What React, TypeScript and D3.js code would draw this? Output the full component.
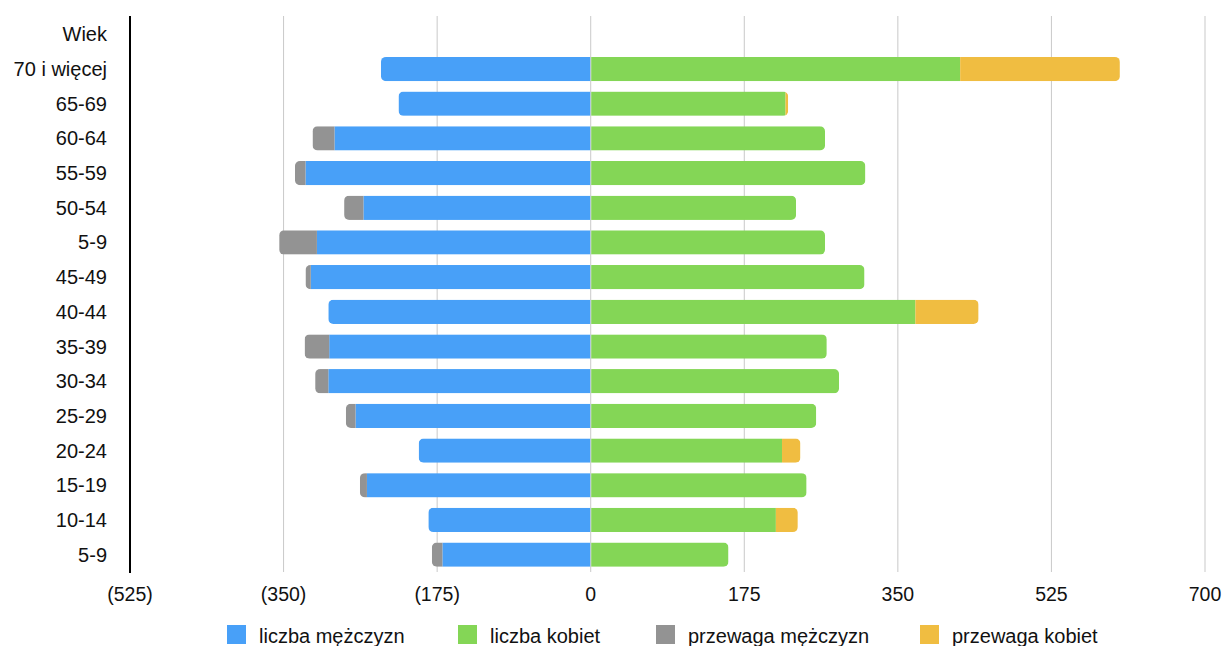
import * as d3 from "d3";

// age groups from top to bottom ("Wiek" is the header row, it holds no bars)
const ageGroups = [
  "Wiek",
  "70 i więcej",
  "65-69",
  "60-64",
  "55-59",
  "50-54",
  "5-9",
  "45-49",
  "40-44",
  "35-39",
  "30-34",
  "25-29",
  "20-24",
  "15-19",
  "10-14",
  "5-9",
];
const menCount = [0, 239, 219, 292, 325, 259, 312, 319, 299, 298, 299, 268, 196, 255, 185, 169];
const womenCount = [0, 421, 222, 267, 313, 234, 267, 312, 370, 269, 283, 257, 218, 246, 211, 157];
const menExcess = [0, 0, 0, 25, 12, 22, 43, 6, 0, 28, 15, 11, 0, 8, 0, 12];
const womenExcess = [0, 182, 3, 0, 0, 0, 0, 0, 72, 0, 0, 0, 21, 0, 25, 0];

const xTicks = [-525, -350, -175, 0, 175, 350, 525, 700];

const seriesNames = ["liczba mężczyzn", "liczba kobiet", "przewaga mężczyzn", "przewaga kobiet"];
const seriesColors = ["#48a0f8", "#84d656", "#939393", "#f0bd41"];

const WIDTH = 1222;
const HEIGHT = 646;
const FONT = "'Liberation Sans', Arial, Helvetica, sans-serif";
const RADIUS = 5;
const LEGEND_X = [227, 458, 656, 920];

export default function App() {
  const x = d3.scaleLinear().domain([-525, 700]).range([130, 1205]);
  const y = d3
    .scaleBand<number>()
    .domain(d3.range(ageGroups.length))
    .range([17, 572])
    .paddingInner(0.3)
    .paddingOuter(0.15);
  const bw = y.bandwidth();
  const x0 = x(0);

  const fmt = (v: number) => (v < 0 ? `(${-v})` : `${v}`);

  const rows = ageGroups.map((label, i) => {
    const top = y(i)!;
    const menTotal = menCount[i] + menExcess[i];
    const womenTotal = womenCount[i] + womenExcess[i];
    if (menTotal === 0 && womenTotal === 0) return null;
    const leftEdge = x(-menTotal);
    const rightEdge = x(womenTotal);
    return (
      <g key={i}>
        <defs>
          <clipPath id={`clipL${i}`}>
            <rect x={leftEdge} y={top} width={x0 - leftEdge + RADIUS * 2} height={bw} rx={RADIUS} />
          </clipPath>
          <clipPath id={`clipR${i}`}>
            <rect x={x0 - RADIUS * 2} y={top} width={rightEdge - x0 + RADIUS * 2} height={bw} rx={RADIUS} />
          </clipPath>
        </defs>
        <g clipPath={`url(#clipL${i})`}>
          <rect x={x(-menCount[i])} y={top} width={x0 - 0.5 - x(-menCount[i])} height={bw} fill={seriesColors[0]} />
          {menExcess[i] > 0 && (
            <rect x={leftEdge} y={top} width={x(-menCount[i]) - leftEdge} height={bw} fill={seriesColors[2]} />
          )}
        </g>
        <g clipPath={`url(#clipR${i})`}>
          <rect x={x0 + 0.5} y={top} width={x(womenCount[i]) - x0 - 0.5} height={bw} fill={seriesColors[1]} />
          {womenExcess[i] > 0 && (
            <rect x={x(womenCount[i])} y={top} width={rightEdge - x(womenCount[i])} height={bw} fill={seriesColors[3]} />
          )}
        </g>
      </g>
    );
  });

  return (
    <svg
      width={WIDTH}
      height={HEIGHT}
      style={{ position: "absolute", left: 0, top: 0, background: "#fff" }}
      fontFamily={FONT}
    >
      {/* grid */}
      {xTicks.slice(1).map((t) => (
        <line key={t} x1={x(t)} x2={x(t)} y1={16} y2={572} stroke="#c9c9c9" strokeWidth={1} />
      ))}
      {rows}
      <line x1={x(-525)} x2={x(-525)} y1={16} y2={573} stroke="#000" strokeWidth={2} />

      {/* category labels */}
      {ageGroups.map((label, i) => (
        <text
          key={i}
          x={107}
          y={y(i)! + bw / 2}
          dy="0.35em"
          textAnchor="end"
          fontSize={20}
          fill="#111"
        >
          {label}
        </text>
      ))}

      {/* x tick labels */}
      {xTicks.map((t) => (
        <text key={t} x={x(t)} y={601} textAnchor="middle" fontSize={19.5} fill="#111">
          {fmt(t)}
        </text>
      ))}

      {/* legend */}
      {seriesNames.map((name, i) => (
        <g key={name} transform={`translate(${LEGEND_X[i]},625)`}>
          <rect width={19} height={19} fill={seriesColors[i]} />
          <text x={32} y={18} fontSize={20} fill="#111">
            {name}
          </text>
        </g>
      ))}
    </svg>
  );
}
